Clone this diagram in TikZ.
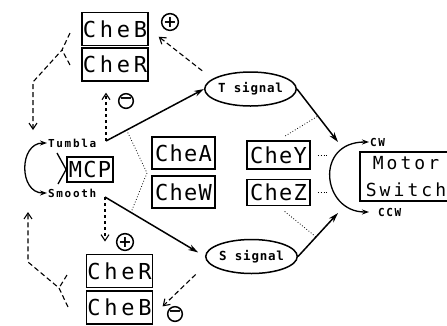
\documentclass[tikz,border=0pt]{standalone}
\usepackage{fontspec}
\newfontfamily\boxfont{DejaVu Sans Mono}[LetterSpace=17]
\newfontfamily\midfont{DejaVu Sans Mono}[LetterSpace=6]
\newfontfamily\motorfont{DejaVu Sans Mono}[LetterSpace=17]
\newfontfamily\tagfont{DejaVu Sans Mono}[LetterSpace=15]
\newfontfamily\sigfont{DejaVu Sans Mono}[LetterSpace=6]
\newfontfamily\signfont{DejaVu Sans}
\usetikzlibrary{arrows.meta, positioning, shapes.geometric}
\tikzset{
protein/.style={draw, line width=1.8pt, minimum width=66pt, minimum height=33pt, inner sep=0pt, font=\fontsize{22}{22}\boxfont}, % outer che boxes
inner/.style={protein, minimum width=63pt, minimum height=32pt, font=\fontsize{22}{22}\midfont}, % middle che boxes
motor/.style={draw, line width=1.8pt, minimum width=92pt, minimum height=49pt, inner sep=0pt, align=center, font=\fontsize{18}{27}\motorfont}, % motor switch
signal/.style={ellipse, draw, line width=1.5pt, minimum width=81pt, minimum height=34pt, inner sep=0pt, font=\fontsize{12.5}{12.5}\sigfont\bfseries}, % signal ovals
tag/.style={anchor=west, inner sep=1pt, font=\fontsize{11}{11}\tagfont\bfseries}, % small labels
sign/.style={circle, draw, line width=1.5pt, minimum size=14pt, inner sep=0pt, font=\fontsize{16}{16}\signfont\bfseries}, % plus / minus
act/.style={-{Stealth[length=10pt,width=6pt]}, line width=1.5pt}, % solid arrows
turn/.style={{Stealth[length=7pt,width=5pt]}-{Stealth[length=7pt,width=5pt]}, line width=1.3pt}, % direction switches
feed/.style={line width=1.1pt, dash pattern=on 5pt off 3pt}, % dashed feedback
feedarrow/.style={feed, -{Straight Barb[length=6pt,width=8pt]}},
weak/.style={line width=0.8pt, dotted}, % dotted links
}
\begin{document}
\begin{tikzpicture}[x=1pt, y=-1pt]
\useasboundingbox[fill=white] (0,0) rectangle (447,325);

\node[protein] (cheB1) at (115,29) {CheB};
\node[protein, below=0.5pt of cheB1] (cheR1) {CheR};
\node[protein] (cheR2) at (119.5,271) {CheR};
\node[protein, below=1.5pt of cheR2] (cheB2) {CheB};
\node[inner, minimum width=46pt, minimum height=25pt] (mcp) at (90,169.5) {MCP};
\node[inner] (cheA) at (183.5,153) {CheA};
\node[inner, below=5pt of cheA] (cheW) {CheW};
\node[inner, minimum height=28pt] (cheY) at (278.5,155) {CheY};
\node[inner, minimum height=26pt] (cheZ) at (278.5,192.5) {CheZ};
\node[motor] (motor) at (406,176.5) {Motor\\Switch};

\node[signal] (tsig) at (250.5,89) {T signal};
\node[signal] (ssig) at (251.5,256.5) {S signal};

\node[tag] (tumbla) at (47,143) {Tumbla};
\node[tag] (smooth) at (47,193) {Smooth};
\node[tag] (cw) at (369,142) {CW};
\node[tag] (ccw) at (377,212) {CCW};

\node[sign] (plusT) at (170,22) {+};
\node[sign] (minusT) at (126,101) {−};
\node[sign] (plusS) at (125,242) {+};
\node[sign] (minusS) at (175,314) {−};

\coordinate (tjoin) at (106,141);
\coordinate (sjoin) at (105,197);
\coordinate (tin) at (338,142);
\coordinate (sin) at (338,213);
\coordinate (awest) at (147,173);
\coordinate (swl) at (328,177);
\coordinate (mcpA) at (57,153);
\coordinate (mcpB) at (58,184);

\draw[act] (tjoin) -- coordinate[pos=0.21] (tdot) (tsig.west);
\draw[act, shorten >=8pt] (sjoin) -- coordinate[pos=0.26] (sdot) (ssig.west);
\draw[act] (tsig.east) -- coordinate[pos=0.51] (ydot) (tin);
\draw[act] (ssig.east) -- coordinate[pos=0.45] (zdot) (sin);

\draw[turn] (tumbla.west) to[out=180, in=180, looseness=1.45] (smooth.west);
\draw[turn, shorten >=8pt] (cw.west) to[out=180, in=180, looseness=2] (ccw.west);
\draw[line width=1.3pt] (mcpA) -- (mcp.west) -- (mcpB);

\draw[weak] (tdot) -- (awest) -- (sdot);
\draw[weak, shorten <=8pt] (cheY.north) -- (ydot);
\draw[weak, shorten <=8pt] (cheZ.south) -- (zdot);
\draw[weak, shorten <=7pt] (cheY.east) -- (cheY.east -| swl);
\draw[weak, shorten <=7pt] (cheZ.east) -- (cheZ.east -| swl);

\draw[feedarrow, shorten <=13pt, shorten >=12.5pt] (tsig.165) -- (cheB1.east);
\draw[feedarrow, shorten <=17pt, shorten >=12.8pt] (ssig.188) -- ([yshift=-8pt]cheB2.east);
\draw[feedarrow, dash pattern=on 3pt off 3pt, shorten >=11pt] (tjoin) -- (tjoin |- cheR1.south);
\draw[feedarrow, dash pattern=on 3pt off 3pt, shorten >=12pt] (sjoin) -- (sjoin |- cheR2.north);

\coordinate (fbB) at (70,33);
\coordinate (fbR) at (70,65);
\coordinate (jt) at (62,50);
\coordinate (kt) at (33,82);
\coordinate (ktend) at (33,130);
\draw[feedarrow] (fbB) -- (jt) -- (kt) -- (ktend);
\draw[feed] (fbR) -- (jt);

\coordinate (fsR) at (67,275);
\coordinate (fsB) at (68,307);
\coordinate (js) at (59,288);
\coordinate (ks) at (28,262);
\coordinate (ksend) at (28,212);
\draw[feedarrow] (fsB) -- (js) -- (ks) -- (ksend);
\draw[feed] (fsR) -- (js);
\end{tikzpicture}
\end{document}
